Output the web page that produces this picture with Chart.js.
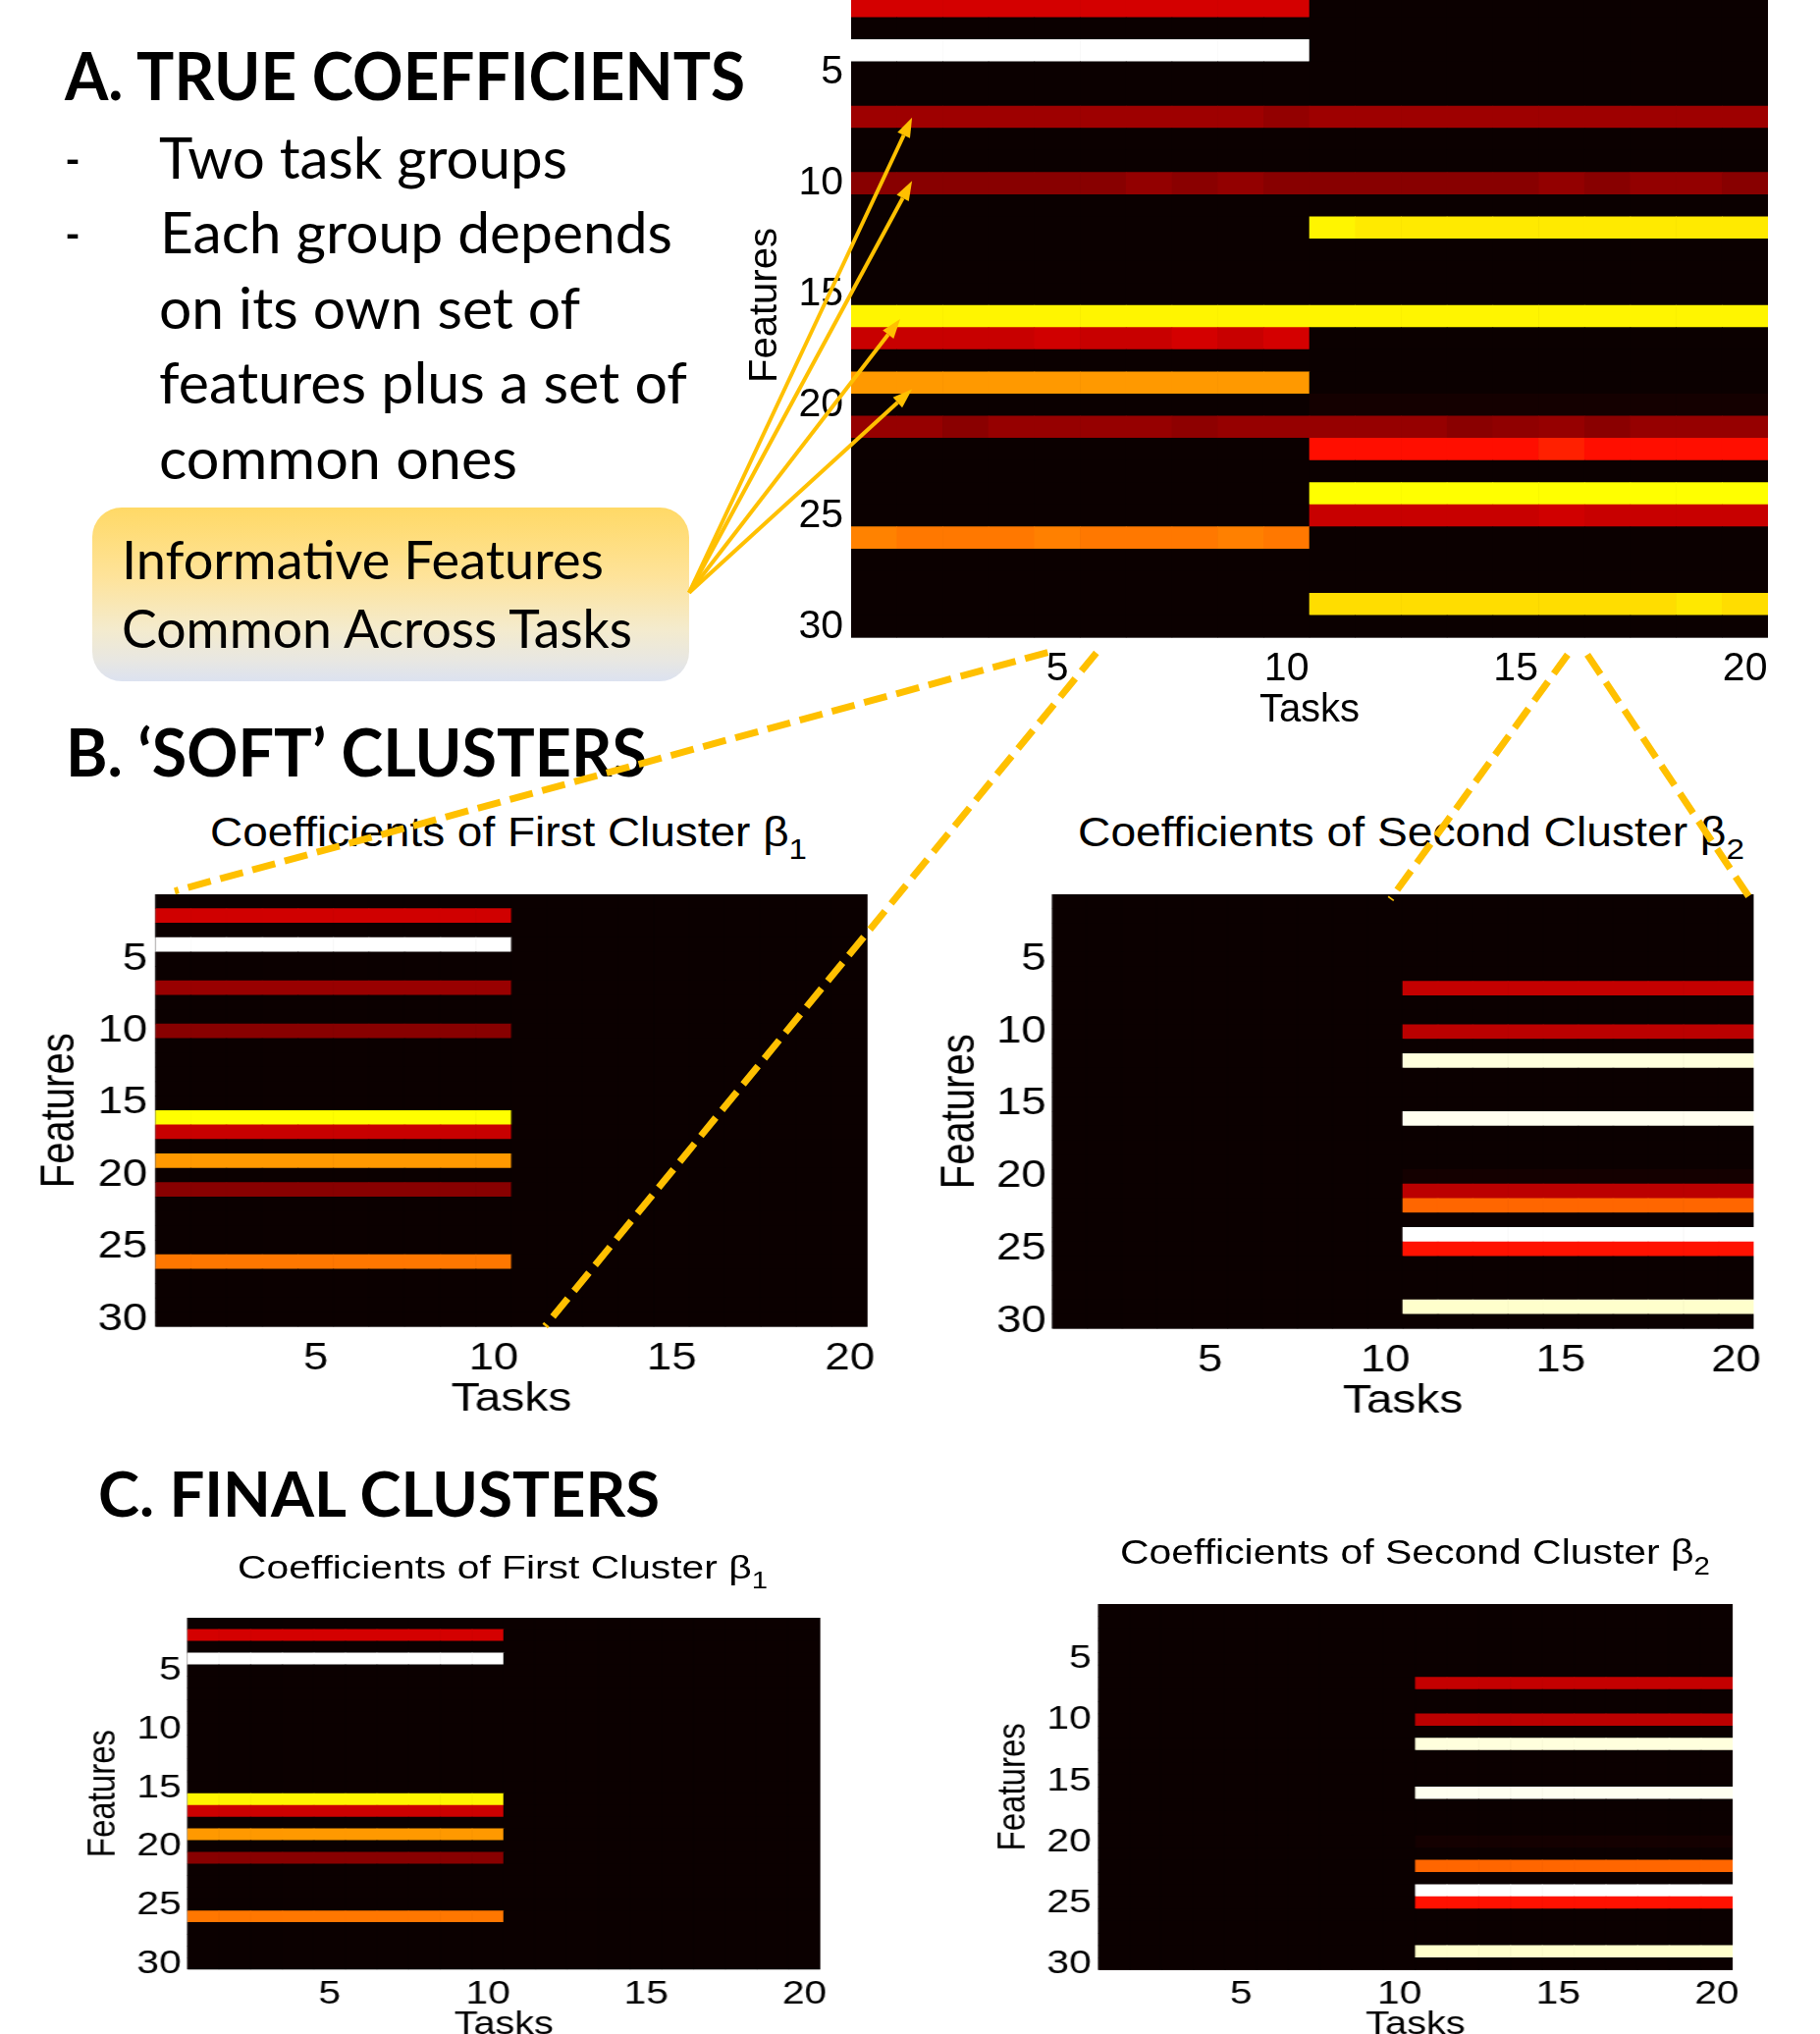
<!DOCTYPE html>
<html>
<head>
<meta charset="utf-8">
<script src="https://cdn.jsdelivr.net/npm/chart.js@4.4.0/dist/chart.umd.min.js"></script>
<style>
html, body { margin: 0; padding: 0; background: #fff; }
#page { position: relative; width: 1854px; height: 2072px; overflow: hidden; background: #fff; }
.txt { position: absolute; left: 0; top: 0; white-space: nowrap; transform-origin: 0 0; color: #000; line-height: 1.2; }
.head { font-family: Lato, 'Open Sans', sans-serif; font-weight: 700; }
.body { font-family: Lato, 'Open Sans', sans-serif; }
.ctitle { font-family: 'Liberation Sans', Arial, sans-serif; }
.ctitle sub { font-size: 0.72em; vertical-align: baseline; position: relative; top: 0.42em; }
.panel { position: absolute; left: 0; top: 0; transform-origin: 0 0; }
#callout { position: absolute; left: 94px; top: 517px; width: 608px; height: 177px; border-radius: 30px;
  background: linear-gradient(to bottom, #ffd966 0%, #fee39a 40%, #f4ebcd 70%, #e8e7e2 88%, #dce2f0 100%); }
#overlay { position: absolute; left: 0; top: 0; z-index: 10; pointer-events: none; }
</style>
</head>
<body>
<div id="page">
  <div id="callout"></div>
  <canvas id="overlay" width="1854" height="2072"></canvas>
</div>
<script>
/** DATA */

const features = [1, 2, 3, 4, 5, 6, 7, 8, 9, 10, 11, 12, 13, 14, 15, 16, 17, 18, 19, 20, 21, 22, 23, 24, 25, 26, 27, 28, 29, 30];
const tasks = [1, 2, 3, 4, 5, 6, 7, 8, 9, 10, 11, 12, 13, 14, 15, 16, 17, 18, 19, 20];
const featureTicks = [5, 10, 15, 20, 25, 30];
const taskTicks = [5, 10, 15, 20];
const firstGroup = [1, 2, 3, 4, 5, 6, 7, 8, 9, 10];
const secondGroup = [11, 12, 13, 14, 15, 16, 17, 18, 19, 20];

// A. true coefficients, one row of 20 task values per informative feature
const trueRows = [2, 4, 7, 10, 12, 16, 17, 19, 20, 21, 22, 24, 25, 26, 29];
const trueValues = [
    [0.301, 0.301, 0.301, 0.301, 0.301, 0.301, 0.301, 0.301, 0.301, 0.301, 0, 0, 0, 0, 0, 0, 0, 0, 0, 0],
    [1, 1, 1, 1, 1, 1, 1, 1, 1, 1, 0, 0, 0, 0, 0, 0, 0, 0, 0, 0],
    [0.22, 0.22, 0.22, 0.22, 0.22, 0.22, 0.22, 0.22, 0.22, 0.204, 0.22, 0.22, 0.22, 0.22, 0.22, 0.22, 0.22, 0.22, 0.22, 0.22],
    [0.187, 0.187, 0.187, 0.187, 0.187, 0.187, 0.204, 0.19, 0.204, 0.187, 0.187, 0.187, 0.187, 0.187, 0.187, 0.204, 0.187, 0.204, 0.204, 0.187],
    [0, 0, 0, 0, 0, 0, 0, 0, 0, 0, 0.731, 0.715, 0.715, 0.715, 0.715, 0.715, 0.715, 0.715, 0.715, 0.715],
    [0.731, 0.731, 0.731, 0.731, 0.731, 0.731, 0.731, 0.731, 0.731, 0.731, 0.731, 0.731, 0.731, 0.731, 0.731, 0.731, 0.731, 0.731, 0.731, 0.731],
    [0.283, 0.283, 0.283, 0.283, 0.295, 0.283, 0.283, 0.301, 0.283, 0.301, 0, 0, 0, 0, 0, 0, 0, 0, 0, 0],
    [0.594, 0.594, 0.594, 0.594, 0.594, 0.594, 0.594, 0.594, 0.594, 0.594, 0, 0, 0, 0, 0, 0, 0, 0, 0, 0],
    [0, 0, 0, 0, 0, 0, 0, 0, 0, 0, 0.014, 0.014, 0.014, 0.014, 0.014, 0.014, 0.014, 0.014, 0.014, 0.014],
    [0.208, 0.208, 0.19, 0.208, 0.208, 0.208, 0.208, 0.196, 0.208, 0.208, 0.208, 0.208, 0.208, 0.19, 0.199, 0.208, 0.19, 0.208, 0.208, 0.208],
    [0, 0, 0, 0, 0, 0, 0, 0, 0, 0, 0.386, 0.386, 0.386, 0.386, 0.386, 0.413, 0.386, 0.386, 0.386, 0.386],
    [0, 0, 0, 0, 0, 0, 0, 0, 0, 0, 0.746, 0.746, 0.746, 0.746, 0.746, 0.746, 0.746, 0.746, 0.746, 0.746],
    [0, 0, 0, 0, 0, 0, 0, 0, 0, 0, 0.283, 0.283, 0.283, 0.283, 0.283, 0.295, 0.283, 0.283, 0.283, 0.283],
    [0.559, 0.544, 0.544, 0.544, 0.556, 0.544, 0.544, 0.544, 0.556, 0.544, 0, 0, 0, 0, 0, 0, 0, 0, 0, 0],
    [0, 0, 0, 0, 0, 0, 0, 0, 0, 0, 0.695, 0.695, 0.695, 0.695, 0.695, 0.695, 0.695, 0.695, 0.712, 0.695]
];

// B. soft clusters (one value per feature row inside its task group)
const softFirstRows = [2, 4, 7, 10, 16, 17, 19, 21, 26];
const softFirstValues = [0.295, 1, 0.213, 0.187, 0.746, 0.283, 0.594, 0.187, 0.543];
const softSecondRows = [7, 10, 12, 16, 20, 21, 22, 24, 25, 29];
const softSecondValues = [0.277, 0.263, 0.966, 0.985, 0.014, 0.263, 0.517, 1, 0.39, 0.949];

// C. final clusters
const finalFirstRows = [2, 4, 16, 17, 19, 21, 26];
const finalFirstValues = [0.301, 1, 0.731, 0.289, 0.594, 0.187, 0.543];
const finalSecondRows = [7, 10, 12, 16, 20, 22, 24, 25, 29];
const finalSecondValues = [0.277, 0.263, 0.966, 0.985, 0.014, 0.517, 1, 0.39, 0.949];

/** HELPERS */

Chart.defaults.color = '#000';
Chart.defaults.font.family = "'Liberation Sans', Arial, sans-serif";

const page = document.getElementById('page');

// matlab 'hot' colormap, 64 steps, read continuously
const hot = (v) => {
    const i = v * 63;
    const r = Math.min(1, (i + 1) / 24);
    const g = Math.min(1, Math.max(0, (i - 23) / 24));
    const b = Math.min(1, Math.max(0, (i - 47) / 16));
    return `rgb(${Math.round(r * 255)},${Math.round(g * 255)},${Math.round(b * 255)})`;
};

const denseCells = (rows, values) => {
    const cells = [];
    features.forEach(f => {
        const r = rows.indexOf(f);
        tasks.forEach((t, j) => {
            cells.push({ x: [t - 0.5, t + 0.5], y: f, v: r < 0 ? 0 : values[r][j] });
        });
    });
    return cells;
};

const sparseCells = (rows, values, group) => {
    const cells = [];
    features.forEach(f => {
        const r = rows.indexOf(f);
        tasks.forEach(t => {
            cells.push({ x: [t - 0.5, t + 0.5], y: f, v: (r >= 0 && group.includes(t)) ? values[r] : 0 });
        });
    });
    return cells;
};

const plotBackground = {
    id: 'plotBackground',
    beforeDatasetsDraw(chart) {
        const { ctx, chartArea: a } = chart;
        ctx.save();
        ctx.fillStyle = hot(0);
        ctx.fillRect(a.left, a.top, a.width, a.height);
        ctx.restore();
    }
};

/** HEATMAPS */

const heatmap = (p) => {
    const s = p.stretch;
    const lhTick = p.tickSize * 1.2;
    const lhTitle = p.titleSize * 1.2;
    const axisLeft = p.yTitleX - s * lhTitle / 2;
    const yAxisW = (p.plot.left - axisLeft) / s;
    const xAxisH = p.xTitleY + lhTitle / 2 - p.plot.bottom;
    const xPad = p.xTickY - p.plot.bottom - lhTick / 2;
    const plotW = (p.plot.right - p.plot.left) / s;
    const plotH = p.plot.bottom - p.plot.top;
    const rightPad = 40;
    const topPad = 30;

    const box = document.createElement('div');
    box.className = 'panel';
    box.style.transform = `scaleX(${s})`;
    page.appendChild(box);

    const build = (w, h) => {
        box.innerHTML = '';
        const canvas = document.createElement('canvas');
        canvas.width = w;
        canvas.height = h;
        canvas.style.width = w + 'px';
        canvas.style.height = h + 'px';
        box.appendChild(canvas);
        return new Chart(canvas, {
            type: 'bar',
            data: {
                labels: features,
                datasets: [{
                    data: p.cells,
                    backgroundColor: c => hot(c.raw.v),
                    borderWidth: 0,
                    barPercentage: 1,
                    categoryPercentage: 1
                }]
            },
            options: {
                indexAxis: 'y',
                responsive: false,
                animation: false,
                devicePixelRatio: 1,
                events: [],
                layout: { autoPadding: false, padding: { left: 0, top: topPad, right: rightPad, bottom: 0 } },
                plugins: { legend: { display: false }, tooltip: { enabled: false } },
                scales: {
                    x: {
                        type: 'linear', min: 0.5, max: 20.5,
                        grid: { display: false, drawTicks: false },
                        border: { display: false },
                        afterBuildTicks: sc => { sc.ticks = taskTicks.map(v => ({ value: v })); },
                        afterFit: sc => { sc.height = xAxisH; },
                        ticks: { font: { size: p.tickSize }, padding: xPad, maxRotation: 0 },
                        title: { display: true, text: 'Tasks', font: { size: p.titleSize }, padding: 0 }
                    },
                    y: {
                        type: 'category',
                        grid: { display: false, drawTicks: false },
                        border: { display: false },
                        afterFit: sc => { sc.width = yAxisW; },
                        ticks: {
                            autoSkip: false,
                            font: { size: p.tickSize },
                            padding: p.yTickGap / s,
                            callback: (v, i) => featureTicks.includes(features[i]) ? String(features[i]) : ''
                        },
                        title: { display: true, text: 'Features', font: { size: p.titleSize }, padding: 0 }
                    }
                }
            },
            plugins: [plotBackground]
        });
    };

    // first pass, then correct the canvas so the plot area lands on the wanted size
    let w = Math.round(yAxisW + plotW + rightPad);
    let h = Math.round(topPad + plotH + xAxisH);
    let chart = build(w, h);
    const a0 = chart.chartArea;
    const w2 = Math.round(w + plotW - a0.width);
    const h2 = Math.round(h + plotH - a0.height);
    if (w2 !== w || h2 !== h) {
        chart.destroy();
        chart = build(w2, h2);
    }

    const a = chart.chartArea;
    const left = p.plot.left - s * a.left;
    const top = p.plot.top - a.top;
    box.style.left = left + 'px';
    box.style.top = top + 'px';
    return { chart, left, top, s };
};

const trueP = heatmap({
    cells: denseCells(trueRows, trueValues),
    plot: { left: 867, right: 1801, top: -27, bottom: 649.5 },
    stretch: 1, tickSize: 41, titleSize: 40,
    yTitleX: 780, xTickY: 682, xTitleY: 724, yTickGap: 8
});
const softFirstP = heatmap({
    cells: sparseCells(softFirstRows, softFirstValues, firstGroup),
    plot: { left: 158, right: 883, top: 911, bottom: 1351 },
    stretch: 1.2, tickSize: 38, titleSize: 40,
    yTitleX: 61.5, xTickY: 1384.5, xTitleY: 1425.5, yTickGap: 8
});
const softSecondP = heatmap({
    cells: sparseCells(softSecondRows, softSecondValues, secondGroup),
    plot: { left: 1072, right: 1786, top: 911, bottom: 1353 },
    stretch: 1.2, tickSize: 38, titleSize: 40,
    yTitleX: 979, xTickY: 1386.5, xTitleY: 1427.5, yTickGap: 6
});
const finalFirstP = heatmap({
    cells: sparseCells(finalFirstRows, finalFirstValues, firstGroup),
    plot: { left: 191, right: 836, top: 1648, bottom: 2006 },
    stretch: 1.2, tickSize: 34, titleSize: 33,
    yTitleX: 106, xTickY: 2031, xTitleY: 2063, yTickGap: 6
});
const finalSecondP = heatmap({
    cells: sparseCells(finalSecondRows, finalSecondValues, secondGroup),
    plot: { left: 1119, right: 1765, top: 1634, bottom: 2006.5 },
    stretch: 1.2, tickSize: 34, titleSize: 33,
    yTitleX: 1033, xTickY: 2031, xTitleY: 2063, yTickGap: 7
});

/** TEXT */

const texts = [
    { html: 'A. TRUE COEFFICIENTS', cls: 'head', size: 66, left: 66, right: 759, base: 102 },
    { html: '-', cls: 'body', size: 58, left: 66, right: 82, base: 182 },
    { html: 'Two task groups', cls: 'body', size: 58, left: 162, right: 578, base: 182 },
    { html: '-', cls: 'body', size: 58, left: 66, right: 82, base: 258 },
    { html: 'Each group depends', cls: 'body', size: 58, left: 163, right: 685, base: 258 },
    { html: 'on its own set of', cls: 'body', size: 58, left: 162, right: 591, base: 335 },
    { html: 'features plus a set of', cls: 'body', size: 58, left: 162, right: 700, base: 411 },
    { html: 'common ones', cls: 'body', size: 58, left: 162, right: 527, base: 488 },
    { html: 'Informative Features', cls: 'body', size: 54, left: 124, right: 615, base: 590 },
    { html: 'Common Across Tasks', cls: 'body', size: 54, left: 124, right: 644, base: 660 },
    { html: 'B. \u2018SOFT\u2019 CLUSTERS', cls: 'head', size: 66, left: 67, right: 659, base: 791 },
    { html: 'C. FINAL CLUSTERS', cls: 'head', size: 64, left: 100, right: 672, base: 1545 },
    { html: 'Coefficients of First Cluster \u03b2<sub>1</sub>', cls: 'ctitle', size: 42, left: 214, right: 822, base: 862 },
    { html: 'Coefficients of Second Cluster \u03b2<sub>2</sub>', cls: 'ctitle', size: 42, left: 1098, right: 1777, base: 862 },
    { html: 'Coefficients of First Cluster \u03b2<sub>1</sub>', cls: 'ctitle', size: 34, left: 242, right: 782, base: 1608 },
    { html: 'Coefficients of Second Cluster \u03b2<sub>2</sub>', cls: 'ctitle', size: 35, left: 1141, right: 1742, base: 1593 }
];

const placeText = (t) => {
    const el = document.createElement('div');
    el.className = 'txt ' + t.cls;
    el.style.fontSize = t.size + 'px';
    el.innerHTML = t.html;
    const mark = document.createElement('span');
    mark.style.cssText = 'display:inline-block;width:0;height:0;vertical-align:baseline';
    el.appendChild(mark);
    page.appendChild(el);
    const box = el.getBoundingClientRect();
    const base = mark.getBoundingClientRect().top - box.top;
    el.style.left = t.left + 'px';
    el.style.top = (t.base - base) + 'px';
    el.style.transform = `scaleX(${(t.right - t.left) / box.width})`;
};

texts.forEach(placeText);

/** OVERLAY: arrows and dashed connectors */

const pagePoint = (p, task, feature) => ({
    x: p.left + p.s * p.chart.scales.x.getPixelForValue(task),
    y: p.top + p.chart.scales.y.getPixelForValue(feature - 1)
});

const gold = '#ffc000';
const overlay = document.getElementById('overlay');
const octx = overlay.getContext('2d');

// arrows from the callout box to the common features in panel A
const calloutBox = document.getElementById('callout').getBoundingClientRect();
const arrowStart = { x: calloutBox.right, y: calloutBox.top + calloutBox.height * 0.49 };
const arrowTips = [[1.83, 7.0], [1.83, 9.86], [1.57, 16.1], [1.83, 19.27]];

octx.strokeStyle = gold;
octx.fillStyle = gold;
octx.lineWidth = 4;
arrowTips.forEach(([task, feature]) => {
    const tip = pagePoint(trueP, task, feature);
    const ang = Math.atan2(tip.y - arrowStart.y, tip.x - arrowStart.x);
    const headLen = 20, headHalf = 7;
    const bx = tip.x - headLen * Math.cos(ang), by = tip.y - headLen * Math.sin(ang);
    octx.beginPath();
    octx.moveTo(arrowStart.x, arrowStart.y);
    octx.lineTo(bx, by);
    octx.stroke();
    octx.beginPath();
    octx.moveTo(tip.x, tip.y);
    octx.lineTo(bx + headHalf * Math.sin(ang), by - headHalf * Math.cos(ang));
    octx.lineTo(bx - headHalf * Math.sin(ang), by + headHalf * Math.cos(ang));
    octx.closePath();
    octx.fill();
});

// dashed zoom lines from panel A down to panel B
const connectors = [
    [trueP, 4.79, 31.15, softFirstP, 1.05, 0.28],
    [trueP, 5.85, 31.17, softFirstP, 11.45, 30.47],
    [trueP, 16.13, 31.25, softSecondP, 10.14, 0.84],
    [trueP, 16.56, 31.25, softSecondP, 20.5, 1.18]
];

octx.lineWidth = 7;
octx.setLineDash([24, 10]);
connectors.forEach(([pa, ta, fa, pb, tb, fb]) => {
    const a = pagePoint(pa, ta, fa);
    const b = pagePoint(pb, tb, fb);
    octx.beginPath();
    octx.moveTo(a.x, a.y);
    octx.lineTo(b.x, b.y);
    octx.stroke();
});
</script>
</body>
</html>
